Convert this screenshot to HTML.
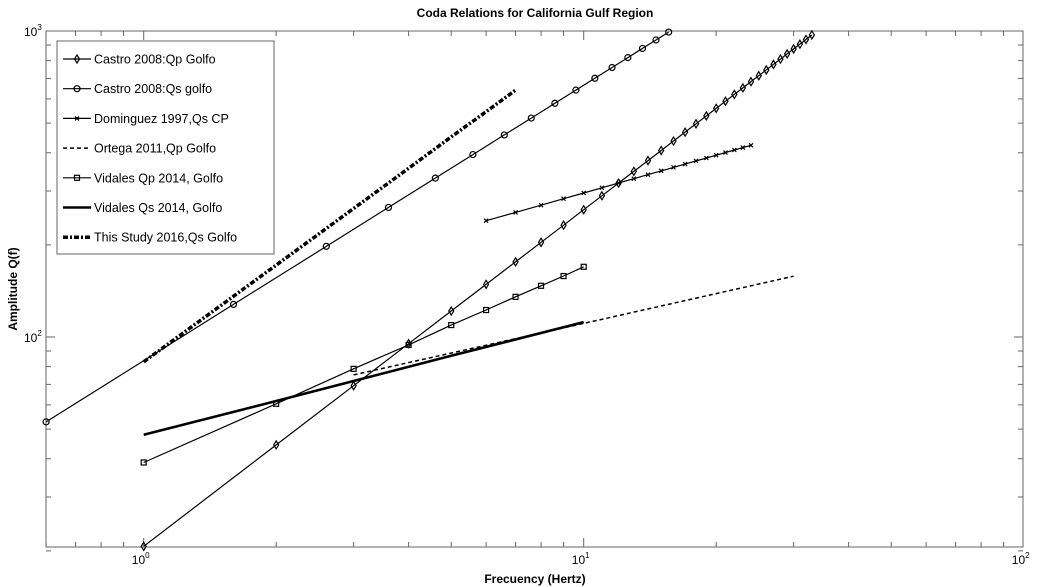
<!DOCTYPE html>
<html><head><meta charset="utf-8"><style>
body{margin:0;background:#fff;}
svg{display:block;font-family:"Liberation Sans",Arial,sans-serif;}
</style></head><body>
<svg id="chart" width="1039" height="587" viewBox="0 0 1039 587">
<rect x="0" y="0" width="1039" height="587" fill="#fff"/>
<text x="535" y="17" text-anchor="middle" font-size="12" font-weight="bold">Coda Relations for California Gulf Region</text>
<text x="535" y="583" text-anchor="middle" font-size="12" font-weight="bold">Frecuency (Hertz)</text>
<text transform="translate(17,289) rotate(-90)" text-anchor="middle" font-size="12" font-weight="bold">Amplitude Q(f)</text>
<g id="axes"></g>
<g id="series"></g>
<g id="legend"></g>
</svg>
<script>
const castroQpF=[1,2,3,4,5,6,7,8,9,10,11,12,13,14,15,16,17,18,19,20,21,22,23,24,25,26,27,28,29,30,31,32,33];
const castroQpQ=[20.7,44.4,69.3,95.1,121.6,148.6,176,203.9,232,260.6,289.4,318.4,347.8,377.2,407,437,467.2,497.4,528,558.7,589.5,620.6,651.6,683.1,714.4,746,777.7,809.6,841.7,873.7,905.8,938.3,970.6];
const castroQsF=[0.6,1.6,2.6,3.6,4.6,5.6,6.6,7.6,8.6,9.6,10.6,11.6,12.6,13.6,14.6,15.6];
const castroQsQ=[52.8,127.8,197.8,265.1,330.5,394.6,457.4,519.3,580.5,640.9,700.7,759.9,818.6,877,934.6,992.1];
const domF=[6,7,8,9,10,11,12,13,14,15,16,17,18,19,20,21,22,23,24];
const domQ=[240,255.4,269.7,283.1,295.6,307.4,318.5,329.2,339.3,349.1,358.4,367.4,376.2,384.6,392.8,400.7,408.4,415.9,423.2];
const ortegaF=[3,10,30];
const ortegaQ=[75.2,110.8,158];
const vidQpF=[1,2,3,4,5,6,7,8,9,10];
const vidQpQ=[38.9,60.5,78.7,94.2,109.4,122.5,135.3,147,158.2,169.6];
const vidQsF=[1,2,3,5,10];
const vidQsQ=[47.9,61.8,71.8,86.8,111.9];
const studyF=[1,2,3,4,5,6,7];
const studyQ=[83,171.8,263,355.8,450.9,544.7,640.3];
const legendLabels=["Castro 2008:Qp Golfo","Castro 2008:Qs golfo","Dominguez 1997,Qs CP","Ortega 2011,Qp Golfo","Vidales Qp 2014, Golfo","Vidales Qs 2014, Golfo","This Study 2016,Qs Golfo"];

const NS="http://www.w3.org/2000/svg";
const X0=46,X1=1023,Y0=31,Y1=547;
function xs(f){return 143.7+440*Math.log10(f);}
function ys(q){return 337-306*(Math.log10(q)-2);}
function mk(tag,attrs,parent){const e=document.createElementNS(NS,tag);for(const k in attrs)e.setAttribute(k,attrs[k]);parent.appendChild(e);return e;}
const axes=document.getElementById('axes');
const frame=mk('rect',{x:X0,y:Y0,width:X1-X0,height:Y1-Y0,fill:'none',stroke:'#666','stroke-width':1},axes);


// x ticks
for(let d=-1;d<=1;d++){for(let m=1;m<10;m++){const f=m*Math.pow(10,d);if(f<0.6||f>100)continue;const x=xs(f);const L=m===1?9:5;
 const t1=mk('line',{x1:x,x2:x,y1:Y1,y2:Y1-L,stroke:'#666'},axes);
 
 
 const t2=mk('line',{x1:x,x2:x,y1:Y0,y2:Y0+L,stroke:'#666'},axes);
 
 }}
const xt=[[1,'0'],[10,'1'],[100,'2']];
xt.forEach(([f,e])=>{const t=mk('text',{x:xs(f)-3,y:564,'text-anchor':'middle','font-size':12},axes);t.textContent='10';
 
 
 const s=mk('tspan',{dy:-6,'font-size':8},t);s.textContent=e;});
// y ticks
for(let d=1;d<=2;d++){for(let m=1;m<10;m++){const q=m*Math.pow(10,d);if(q<20)continue;const y=ys(q);const L=m===1?9:5;
 const t1=mk('line',{x1:X0,x2:X0+L,y1:y,y2:y,stroke:'#666'},axes);
 
 
 const t2=mk('line',{x1:X1,x2:X1-L,y1:y,y2:y,stroke:'#666'},axes);
 
 }}
const yt=[[100,'2'],[1000,'3']];
yt.forEach(([q,e])=>{const t=mk('text',{x:24,y:ys(q)+5,'font-size':12},axes);t.textContent='10';
 
 
 const s=mk('tspan',{dy:-6,'font-size':8},t);s.textContent=e;});

const series=document.getElementById('series');
function marker(type,x,y,g){
 let e;
 if(type==='diamond')e=mk('path',{d:`M${x},${y-4}L${x+2.5},${y}L${x},${y+4}L${x-2.5},${y}Z`,fill:'none',stroke:'#000','stroke-width':1.2},g);
 else if(type==='circle')e=mk('circle',{cx:x,cy:y,r:3,fill:'none',stroke:'#000','stroke-width':1.2},g);
 else if(type==='square')e=mk('rect',{x:x-2.5,y:y-2.5,width:5,height:5,fill:'none',stroke:'#000','stroke-width':1.2},g);
 else if(type==='x')e=mk('path',{d:`M${x-2},${y-2}L${x+2},${y+2}M${x-2},${y+2}L${x+2},${y-2}`,stroke:'#000','stroke-width':1.2},g);
 if(e){
 }
}
const defs=[
 {F:castroQpF,Q:castroQpQ,w:1.2,dash:null,m:'diamond',name:'castro-qp-series'},
 {F:castroQsF,Q:castroQsQ,w:1.2,dash:null,m:'circle',name:'castro-qs-series'},
 {F:domF,Q:domQ,w:1.2,dash:null,m:'x',name:'dominguez-series'},
 {F:ortegaF,Q:ortegaQ,w:1.5,dash:'4,3',m:null,name:'ortega-series'},
 {F:vidQpF,Q:vidQpQ,w:1.2,dash:null,m:'square',name:'vidales-qp-series'},
 {F:vidQsF,Q:vidQsQ,w:2.6,dash:null,m:null,name:'vidales-qs-series'},
 {F:studyF,Q:studyQ,w:3.5,dash:'5,2,2,2',m:null,name:'this-study-series'}
];
defs.forEach(s=>{
 const g=mk('g',{},series);
 
 
 const pts=s.F.map((f,i)=>xs(f).toFixed(1)+','+ys(s.Q[i]).toFixed(1)).join(' ');
 const a={points:pts,fill:'none',stroke:'#000','stroke-width':s.w};
 if(s.dash)a['stroke-dasharray']=s.dash;
 const pl=mk('polyline',a,g);
 
 
 if(s.m)s.F.forEach((f,i)=>marker(s.m,xs(f),ys(s.Q[i]),g));
});
// legend
const lg=document.getElementById('legend');
const box=mk('rect',{x:57,y:41,width:217,height:213,fill:'#fff',stroke:'#666'},lg);


legendLabels.forEach((lab,i)=>{
 const s=defs[i];const y=59+i*29.7;
 const g=mk('g',{},lg);
 
 
 const a={x1:63,x2:91,y1:y,y2:y,stroke:'#000','stroke-width':s.w};
 if(s.dash)a['stroke-dasharray']=s.dash;
 mk('line',a,g);
 if(s.m)marker(s.m,77,y,g);
 const t=mk('text',{x:94,y:y+4.5,'font-size':12.5},g);t.textContent=lab;
 
 
});
</script>
</body></html>
